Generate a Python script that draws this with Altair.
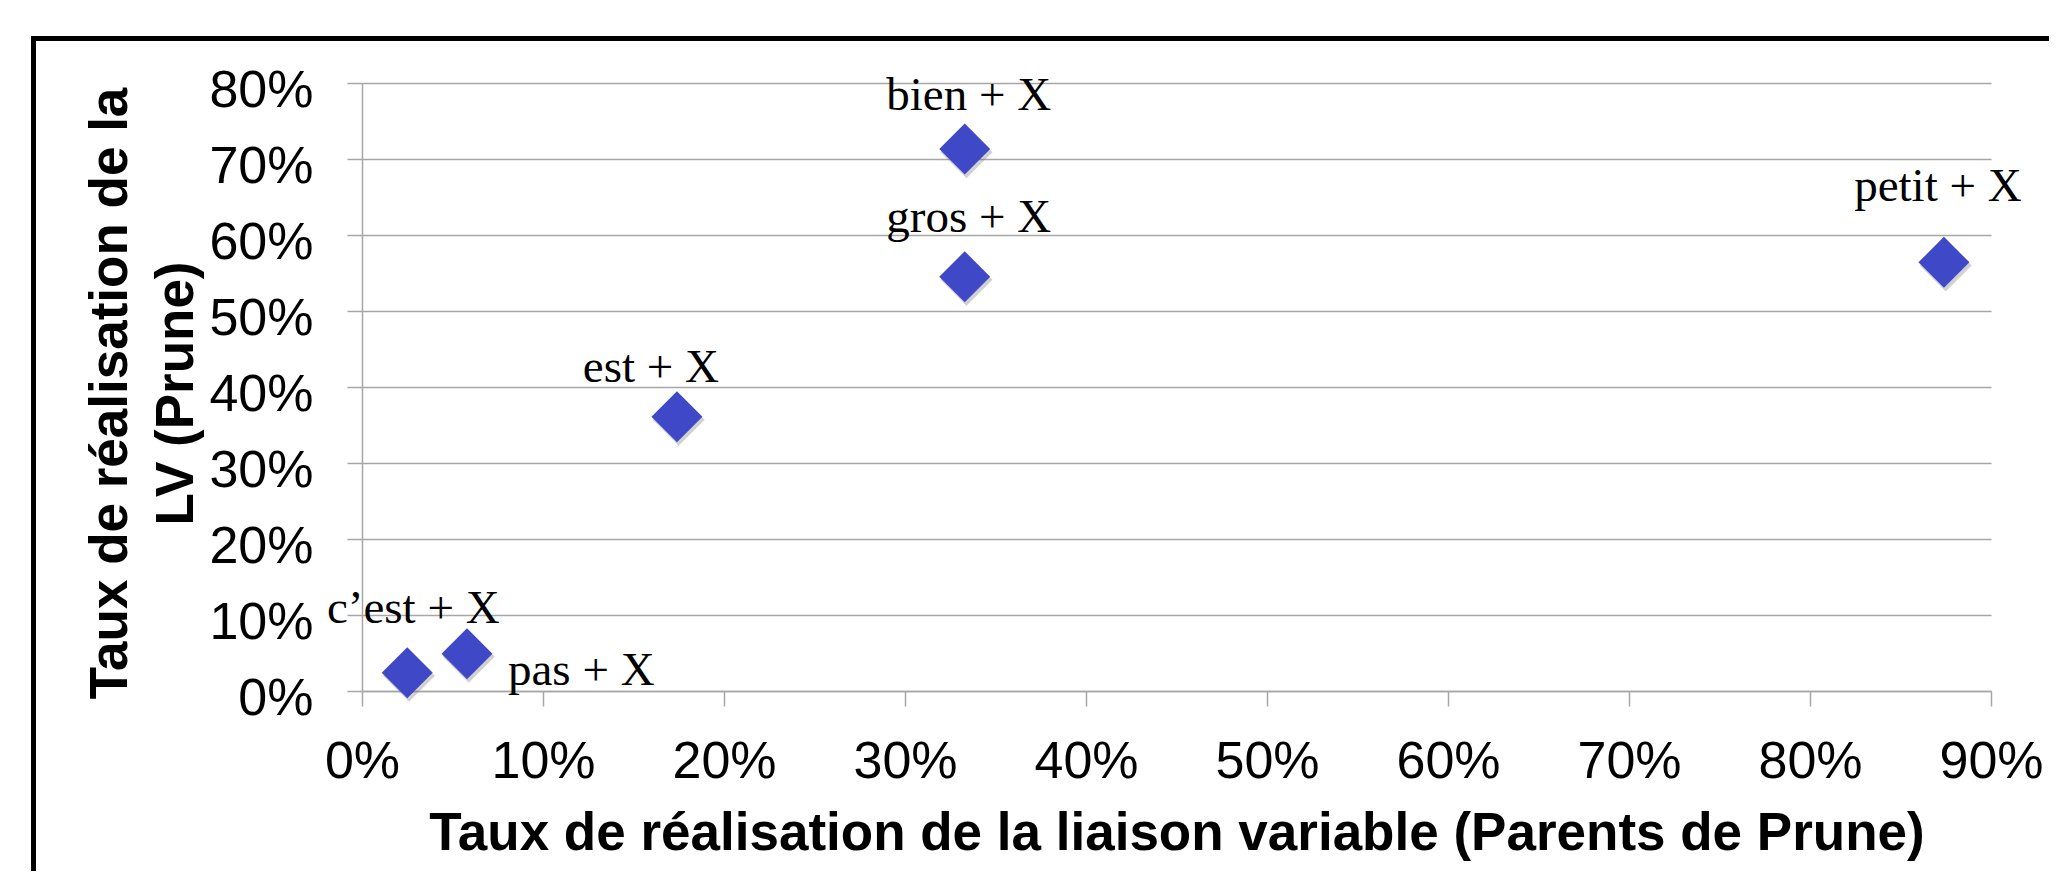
import altair as alt
import pandas as pd

# ---- data ----
labels = ["c\u2019est + X", "pas + X", "est + X", "gros + X", "bien + X", "petit + X"]
x_rate = [0.025, 0.058, 0.174, 0.333, 0.333, 0.874]
y_rate = [0.024, 0.049, 0.361, 0.545, 0.713, 0.564]
x_ticks = [0.0, 0.1, 0.2, 0.3, 0.4, 0.5, 0.6, 0.7, 0.8, 0.9]
y_ticks = [0.0, 0.1, 0.2, 0.3, 0.4, 0.5, 0.6, 0.7, 0.8]
x_title = "Taux de réalisation de la liaison variable (Parents de Prune)"
y_title = ["Taux de réalisation de la", "LV (Prune)"]

df = pd.DataFrame({"label": labels, "x": x_rate, "y": y_rate})

GRID = "#a6a6a6"
SANS = "Liberation Sans"
SERIF = "Liberation Serif"

x_enc = alt.X(
    "x:Q",
    scale=alt.Scale(domain=[0, 0.9], nice=False),
    axis=alt.Axis(
        values=x_ticks, format=".0%", grid=False,
        labelFont=SANS, labelFontSize=52, labelColor="black",
        labelBaseline="alphabetic", labelPadding=71, labelFlush=False,
        labelOverlap=False,
        tickSize=15, tickColor=GRID, tickWidth=1.5,
        domainColor=GRID, domainWidth=1.5,
        title=x_title, titleFont=SANS, titleFontSize=53, titleFontWeight="bold",
        titleColor="black", titleBaseline="alphabetic", titleY=158,
    ),
)
y_enc = alt.Y(
    "y:Q",
    scale=alt.Scale(domain=[0, 0.8], nice=False),
    axis=alt.Axis(
        values=y_ticks, format=".0%", grid=True, gridColor=GRID, gridWidth=1.5,
        labelFont=SANS, labelFontSize=52, labelColor="black",
        labelBaseline="alphabetic", labelOffset=23, labelPadding=34,
        labelFlush=False, labelOverlap=False,
        tickSize=15, tickColor=GRID, tickWidth=1.5,
        domainColor=GRID, domainWidth=1.5,
        title=y_title, titleFont=SANS, titleFontSize=53, titleFontWeight="bold",
        titleColor="black", titleAngle=270, titleAlign="center",
        titleBaseline="alphabetic", titleX=-236, titleY=310, titleLineHeight=66,
    ),
)

base = alt.Chart(df)

frame = alt.Chart(pd.DataFrame({"f": [0]})).mark_rect(
    fillOpacity=0, stroke="black", strokeWidth=5
).encode(
    x=alt.value(-328.5), x2=alt.value(1900),
    y=alt.value(-44.5), y2=alt.value(900),
)

shadow = base.mark_point(
    shape="M0.07,-0.9L1.09,0.12L0.07,1.14L-0.95,0.12Z",
    size=2600, filled=True, fill="#7a7a7a", opacity=0.35, strokeWidth=0,
).encode(x=x_enc, y=y_enc)

points = base.mark_point(
    shape="diamond", size=2600, filled=True, fill="#3f49c7", opacity=1, strokeWidth=0,
).encode(x=x_enc, y=y_enc)

# label placement (layout only)
label_pos = {
    "c\u2019est + X": ("center", 6, -50),
    "pas + X": ("left", 41, 31),
    "est + X": ("center", -26, -35),
    "gros + X": ("center", 4, -45),
    "bien + X": ("center", 4, -39),
    "petit + X": ("center", -6, -61),
}

texts = []
for name in labels:
    align, dx, dy = label_pos[name]
    texts.append(
        base.transform_filter(alt.datum.label == name).mark_text(
            font=SERIF, fontSize=47, color="black", align=align,
            baseline="alphabetic", dx=dx, dy=dy,
        ).encode(x=x_enc, y=y_enc, text="label:N")
    )

chart = alt.layer(frame, shadow, points, *texts).properties(
    width=1629, height=608,
    autosize=alt.AutoSizeParams(type="none"),
    padding={"left": 354, "top": 75, "right": 58, "bottom": 180},
    background="white",
).configure_view(stroke=None)

chart.save("out.html", embed_options={"renderer": "svg", "actions": False})
